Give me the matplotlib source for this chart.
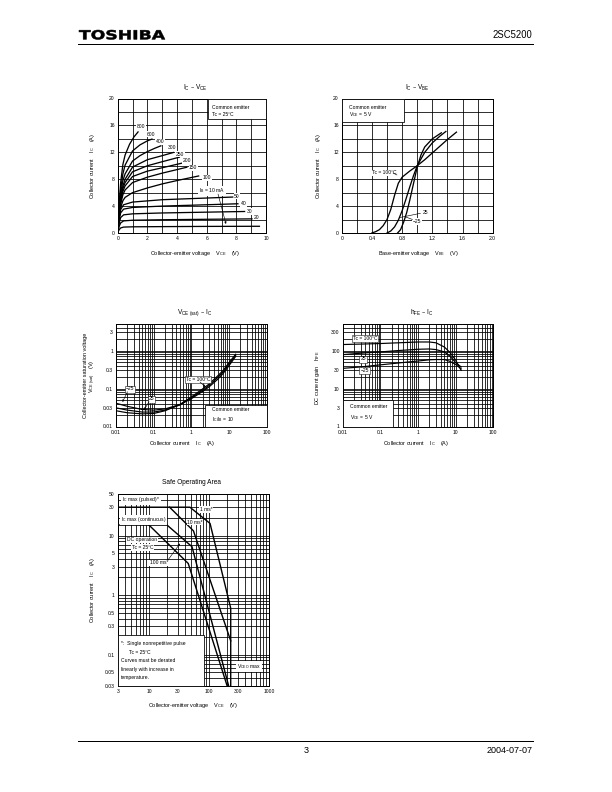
import numpy as np
import matplotlib
matplotlib.use('Agg')
import matplotlib.pyplot as plt
from matplotlib.patches import Rectangle, PathPatch
from matplotlib.textpath import TextPath
from matplotlib.font_manager import FontProperties
import matplotlib.transforms as mtransforms
from matplotlib.ticker import NullFormatter

plt.rcParams['font.family'] = ['Liberation Sans', 'DejaVu Sans']
plt.rcParams['mathtext.default'] = 'regular'

# ---------------- data ----------------
# I_C - V_CE  (common emitter, Tc = 25 C), curves per base current (mA)
vce_ib800 = [0, 0.05, 0.1, 0.2, 0.35, 0.5, 0.8, 1.1, 1.4]
ic_ib800 = [0, 2.4, 4.4, 7.5, 10.2, 11.6, 13.2, 14.3, 15.1]
vce_ib600 = [0, 0.05, 0.1, 0.2, 0.35, 0.5, 1.0, 1.5, 2.0, 2.35]
ic_ib600 = [0, 2.1, 3.8, 6.5, 8.8, 10.1, 12.2, 13.1, 13.7, 14.0]
vce_ib400 = [0, 0.05, 0.1, 0.2, 0.35, 0.5, 1.0, 1.5, 2.0, 2.5, 2.95]
ic_ib400 = [0, 1.9, 3.4, 5.9, 7.8, 8.8, 10.7, 11.5, 12.1, 12.6, 13.0]
vce_ib300 = [0, 0.05, 0.1, 0.2, 0.35, 0.5, 1.0, 2.0, 3.0, 3.8]
ic_ib300 = [0, 1.7, 3.1, 5.3, 7.0, 8.0, 9.8, 10.9, 11.5, 12.0]
vce_ib250 = [0, 0.05, 0.1, 0.2, 0.35, 0.5, 1.0, 2.0, 3.0, 4.2]
ic_ib250 = [0, 1.6, 3.0, 5.0, 6.6, 7.5, 9.1, 10.0, 10.6, 11.3]
vce_ib200 = [0, 0.05, 0.1, 0.2, 0.35, 0.5, 1.0, 2.0, 3.0, 4.55]
ic_ib200 = [0, 1.5, 2.8, 4.7, 6.2, 7.0, 8.4, 9.2, 9.7, 10.5]
vce_ib150 = [0, 0.05, 0.1, 0.2, 0.35, 0.5, 1.0, 2.0, 3.0, 4.7]
ic_ib150 = [0, 1.4, 2.6, 4.3, 5.7, 6.4, 7.5, 8.3, 8.9, 9.8]
vce_ib100 = [0, 0.05, 0.1, 0.2, 0.35, 0.5, 1.0, 2.0, 3.0, 4.0, 5.5]
ic_ib100 = [0, 1.2, 2.3, 3.8, 4.8, 5.3, 6.0, 6.7, 7.3, 7.8, 8.5]
vce_ib50 = [0, 0.05, 0.1, 0.2, 0.4, 1.0, 3.0, 6.0, 7.8]
ic_ib50 = [0, 1.2, 2.3, 3.5, 4.2, 4.6, 4.95, 5.2, 5.35]
vce_ib40 = [0, 0.05, 0.1, 0.2, 0.4, 1.0, 3.0, 6.0, 8.15]
ic_ib40 = [0, 1.0, 2.0, 3.0, 3.55, 3.8, 4.0, 4.2, 4.35]
vce_ib30 = [0, 0.05, 0.1, 0.2, 0.4, 1.0, 3.0, 6.0, 8.6]
ic_ib30 = [0, 0.8, 1.5, 2.3, 2.7, 2.85, 2.98, 3.1, 3.2]
vce_ib20 = [0, 0.05, 0.1, 0.2, 0.4, 1.0, 3.0, 6.0, 9.1]
ic_ib20 = [0, 0.55, 1.0, 1.5, 1.8, 1.9, 1.97, 2.04, 2.1]
vce_ib10 = [0, 0.05, 0.1, 0.2, 0.4, 1.0, 3.0, 6.0, 9.6]
ic_ib10 = [0, 0.28, 0.5, 0.75, 0.88, 0.92, 0.95, 0.98, 1.0]

# I_C - V_BE  (V_CE = 5 V)
vbe_100 = [0.40, 0.45, 0.50, 0.55, 0.60, 0.65, 0.70, 0.75, 0.80, 0.90, 1.0, 1.1, 1.2, 1.3, 1.4, 1.52]
icb_100 = [0, 0.2, 0.5, 1.1, 2.0, 3.5, 5.6, 7.4, 8.3, 9.2, 10.0, 10.9, 11.9, 12.9, 13.9, 15.0]
vbe_25 = [0.60, 0.65, 0.70, 0.75, 0.80, 0.85, 0.90, 0.95, 1.0, 1.1, 1.2, 1.3, 1.38]
icb_25 = [0, 0.3, 0.9, 1.9, 3.3, 5.0, 6.8, 8.5, 10.0, 12.0, 13.4, 14.4, 15.1]
vbe_m25 = [0.74, 0.78, 0.82, 0.86, 0.90, 0.95, 1.0, 1.05, 1.1, 1.2, 1.32]
icb_m25 = [0, 0.5, 1.6, 3.0, 4.8, 7.3, 9.8, 11.6, 12.8, 14.0, 14.9]

# V_CE(sat) - I_C  (I_C/I_B = 10)
sat_ic = [0.01, 0.02, 0.05, 0.1, 0.2, 0.5, 1, 2, 3, 5, 7, 10, 15]
sat_m25 = [0.041, 0.034, 0.028, 0.027, 0.029, 0.038, 0.054, 0.084, 0.112, 0.175, 0.25, 0.40, 0.70]
sat_25 = [0.031, 0.027, 0.024, 0.024, 0.027, 0.037, 0.057, 0.09, 0.122, 0.195, 0.275, 0.44, 0.75]
sat_100 = [0.026, 0.023, 0.0215, 0.022, 0.026, 0.038, 0.06, 0.098, 0.133, 0.215, 0.30, 0.48, 0.80]

# h_FE - I_C  (V_CE = 5 V)
hfe_ic = [0.01, 0.03, 0.1, 0.3, 1, 2, 3, 5, 7, 10, 14]
hfe_100 = [144, 148, 153, 160, 168, 168, 160, 124, 90, 56, 30]
hfe_25 = [78, 85, 92, 100, 108, 110, 106, 92, 72, 48, 37]
hfe_m25 = [34, 37, 42, 47, 53, 57, 58, 58, 52, 43, 33]

# Safe operating area
soa_dc_v = [3, 10, 45, 200]
soa_dc_i = [15, 15, 3.4, 0.03]
soa_100ms_v = [10, 20, 52, 212]
soa_100ms_i = [15, 15, 6.5, 0.03]
soa_10ms_v = [22, 55, 230]
soa_10ms_i = [30, 12, 0.17]
soa_1ms_v = [3, 48, 104, 230, 230]
soa_1ms_i = [30, 30, 16, 0.6, 0.03]

# tick labels
lin1_xt = [0, 2, 4, 6, 8, 10]
lin1_yt = [0, 4, 8, 12, 16, 20]
lin2_xt = [0, 0.4, 0.8, 1.2, 1.6, 2.0]
lin2_xl = ['0', '0.4', '0.8', '1.2', '1.6', '2.0']
log_ic_xt = [0.01, 0.1, 1, 10, 100]
log_ic_xl = ['0.01', '0.1', '1', '10', '100']
sat_yt = [0.01, 0.03, 0.1, 0.3, 1, 3]
sat_yl = ['0.01', '0.03', '0.1', '0.3', '1', '3']
hfe_yt = [1, 3, 10, 30, 100, 300]
hfe_yl = ['1', '3', '10', '30', '100', '300']
soa_xt = [3, 10, 30, 100, 300, 1000]
soa_xl = ['3', '10', '30', '100', '300', '1000']
soa_yt = [0.03, 0.05, 0.1, 0.3, 0.5, 1, 3, 5, 10, 30, 50]
soa_yl = ['0.03', '0.05', '0.1', '0.3', '0.5', '1', '3', '5', '10', '30', '50']

# ---------------- figure ----------------
W, H = 612, 792
fig = plt.figure(figsize=(W / 72, H / 72), dpi=72)
fig.patch.set_facecolor('white')

TICK = 5
LAB = 5.5
ANN = 5
TITLE = 6.5
GRID_LW = 0.8
CURVE_LW = 1.3


def px(x, y):
    return (x / W, 1 - y / H)


def add_axes(l, t, r, b):
    return fig.add_axes([l / W, 1 - b / H, (r - l) / W, (b - t) / H])


def ptext(ax, x, y, s, **kw):
    kw.setdefault('fontsize', ANN)
    kw.setdefault('zorder', 6)
    return ax.text(*px(x, y), s, transform=fig.transFigure, **kw)


def pbox(ax, l, t, r, b, lw=0.8):
    ax.add_patch(Rectangle(px(l, b), (r - l) / W, (b - t) / H,
                           transform=fig.transFigure, fc='white', ec='black',
                           lw=lw, zorder=4, clip_on=False))


def parrow(ax, x1, y1, x2, y2, head=True):
    ax.annotate('', xy=px(x2, y2), xytext=px(x1, y1),
                xycoords='figure fraction', textcoords='figure fraction',
                arrowprops=dict(arrowstyle='-|>' if head else '-', lw=0.6,
                                color='black', mutation_scale=4,
                                shrinkA=0, shrinkB=0), zorder=6)


def style(ax):
    for s in ax.spines.values():
        s.set_linewidth(1.0)
        s.set_color('black')
    ax.tick_params(which='both', length=0, labelsize=TICK, pad=3)
    ax.grid(True, which='both', color='black', lw=GRID_LW)
    ax.set_axisbelow(True)
    ax.set_facecolor('white')


def log_minor(e0, e1):
    return [m * 10.0 ** e for e in range(e0, e1 + 1) for m in range(1, 10)]


WHITE = dict(boxstyle='square,pad=0.12', fc='white', ec='none')
BORDER = dict(boxstyle='square,pad=0.2', fc='white', ec='black', lw=0.5)

# ---------- header / footer ----------
tp = TextPath((0, 0), 'TOSHIBA', size=10,
              prop=FontProperties(family='DejaVu Sans', weight='bold'))
bb = tp.get_extents()
trans = (mtransforms.Affine2D().translate(-bb.x0, -bb.y0)
         .scale(86.0 / bb.width, 9.5 / bb.height).translate(79, H - 39.5))
fig.add_artist(PathPatch(tp, transform=trans, fc='black', ec='black', lw=0.5))
fig.text(*px(532, 35), '2SC5200', fontsize=9.5, ha='right', va='center')
fig.add_artist(plt.Line2D([78 / W, 533 / W], [1 - 44 / H, 1 - 44 / H],
                          color='black', lw=1.0, transform=fig.transFigure))
fig.add_artist(plt.Line2D([78 / W, 533 / W], [1 - 741 / H, 1 - 741 / H],
                          color='black', lw=1.0, transform=fig.transFigure))
fig.text(*px(306, 750.5), '3', fontsize=9, ha='center', va='center')
fig.text(*px(533, 750.5), '2004-07-07', fontsize=9, ha='right', va='center')

# ---------- chart 1 : I_C - V_CE ----------
ax1 = add_axes(117.7, 98.5, 266, 233)
style(ax1)
ib_curves = [(vce_ib800, ic_ib800), (vce_ib600, ic_ib600), (vce_ib400, ic_ib400),
             (vce_ib300, ic_ib300), (vce_ib250, ic_ib250), (vce_ib200, ic_ib200),
             (vce_ib150, ic_ib150), (vce_ib100, ic_ib100), (vce_ib50, ic_ib50),
             (vce_ib40, ic_ib40), (vce_ib30, ic_ib30), (vce_ib20, ic_ib20),
             (vce_ib10, ic_ib10)]
for v, i in ib_curves:
    ax1.plot(v, i, color='black', lw=CURVE_LW, solid_capstyle='butt', zorder=3)
ax1.set_xlim(0, 10)
ax1.set_ylim(0, 20)
ax1.set_xticks(lin1_xt, labels=[str(t) for t in lin1_xt])
ax1.set_xticks(range(0, 11), minor=True)
ax1.set_yticks(lin1_yt, labels=[str(t) for t in lin1_yt])
ax1.set_yticks(range(0, 21, 2), minor=True)
ax1.xaxis.set_minor_formatter(NullFormatter())
ax1.yaxis.set_minor_formatter(NullFormatter())
pbox(ax1, 207.7, 98.5, 266, 119.3)
ptext(ax1, 212.5, 107.5, 'Common emitter', va='center')
ptext(ax1, 212.5, 114.5, 'Tc = 25°C', va='center')
for lab, x, y in [('800', 141, 126.7), ('600', 151, 134.3), ('400', 160, 141.7),
                  ('300', 172, 147.7), ('250', 180, 154.3), ('200', 186.7, 160.7),
                  ('150', 193.3, 167.7), ('100', 206.7, 177.7), ('50', 237, 196),
                  ('40', 243.5, 203.7), ('30', 250, 211.5), ('20', 256.7, 217.3)]:
    ptext(ax1, x, y, lab, ha='center', va='center', bbox=WHITE)
ptext(ax1, 212, 191, 'I$_B$ = 10 mA', ha='center', va='center', bbox=WHITE)
parrow(ax1, 218, 194, 226, 224)
fig.text(*px(195, 88), 'I$_C$ – V$_{CE}$', fontsize=TITLE, ha='center', va='center')
fig.text(*px(195, 254), 'Collector-emitter voltage    V$_{CE}$    (V)',
         fontsize=LAB, ha='center', va='center')
fig.text(*px(93, 166), 'Collector current    I$_C$    (A)', fontsize=LAB,
         ha='center', va='center', rotation=90)

# ---------- chart 2 : I_C - V_BE ----------
ax2 = add_axes(341.7, 98.5, 492.7, 233)
style(ax2)
for v, i in [(vbe_100, icb_100), (vbe_25, icb_25), (vbe_m25, icb_m25)]:
    ax2.plot(v, i, color='black', lw=CURVE_LW, zorder=3)
ax2.set_xlim(0, 2.0)
ax2.set_ylim(0, 20)
ax2.set_xticks(lin2_xt, labels=lin2_xl)
ax2.set_xticks(np.arange(0, 2.01, 0.2), minor=True)
ax2.set_yticks(lin1_yt, labels=[str(t) for t in lin1_yt])
ax2.set_yticks(range(0, 21, 2), minor=True)
ax2.xaxis.set_minor_formatter(NullFormatter())
ax2.yaxis.set_minor_formatter(NullFormatter())
pbox(ax2, 341.7, 98.5, 404, 121.7)
ptext(ax2, 349, 107.5, 'Common emitter', va='center')
ptext(ax2, 349, 114.5, 'V$_{CE}$ = 5 V', va='center')
ptext(ax2, 384, 172.7, 'Tc = 100°C', ha='center', va='center', bbox=WHITE)
parrow(ax2, 393, 173, 397, 175, head=False)
ptext(ax2, 425, 212.3, '25', ha='center', va='center', bbox=WHITE)
parrow(ax2, 420.5, 213.3, 400, 217.5, head=False)
ptext(ax2, 417, 221.5, '−25', ha='center', va='center', bbox=WHITE)
parrow(ax2, 412.5, 219.5, 405, 216.7, head=False)
fig.text(*px(417, 88), 'I$_C$ – V$_{BE}$', fontsize=TITLE, ha='center', va='center')
fig.text(*px(418, 254), 'Base-emitter voltage    V$_{BE}$    (V)',
         fontsize=LAB, ha='center', va='center')
fig.text(*px(318.5, 166), 'Collector current    I$_C$    (A)', fontsize=LAB,
         ha='center', va='center', rotation=90)

# ---------- chart 3 : V_CE(sat) - I_C ----------
ax3 = add_axes(116, 324, 266.7, 426.5)
style(ax3)
ax3.set_xscale('log')
ax3.set_yscale('log')
for s in [sat_m25, sat_25, sat_100]:
    ax3.plot(sat_ic, s, color='black', lw=1.2, zorder=3)
ax3.set_xlim(0.01, 100)
ax3.set_ylim(0.01, 5)
ax3.set_xticks(log_ic_xt, labels=log_ic_xl)
ax3.set_xticks(log_minor(-2, 1), minor=True)
ax3.set_yticks(sat_yt, labels=sat_yl)
ax3.set_yticks([t for t in log_minor(-2, 0) if t <= 5], minor=True)
ax3.xaxis.set_minor_formatter(NullFormatter())
ax3.yaxis.set_minor_formatter(NullFormatter())
pbox(ax3, 205, 404.5, 266.7, 426.5)
ptext(ax3, 212, 409.5, 'Common emitter', va='center')
ptext(ax3, 212, 420, 'I$_C$/I$_B$ = 10', va='center')
ptext(ax3, 198, 379, 'Tc = 100°C', ha='center', va='center', bbox=BORDER)
parrow(ax3, 200, 382, 205.5, 387)
ptext(ax3, 130, 389, '−25', ha='center', va='center', bbox=BORDER)
parrow(ax3, 127.5, 391.7, 122.5, 402)
ptext(ax3, 151.7, 399, '25', ha='center', va='center', bbox=BORDER)
parrow(ax3, 149, 401.7, 144, 410)
fig.text(*px(195, 313), 'V$_{CE\\ (sat)}$ – I$_C$', fontsize=TITLE, ha='center', va='center')
fig.text(*px(182, 443), 'Collector current    I$_C$    (A)',
         fontsize=LAB, ha='center', va='center')
fig.text(*px(85, 375), 'Collector-emitter saturation voltage', fontsize=LAB,
         ha='center', va='center', rotation=90)
fig.text(*px(92.5, 376), 'V$_{CE\\ (sat)}$    (V)', fontsize=LAB,
         ha='center', va='center', rotation=90)

# ---------- chart 4 : h_FE - I_C ----------
ax4 = add_axes(342.7, 324, 493.3, 426.5)
style(ax4)
ax4.set_xscale('log')
ax4.set_yscale('log')
for s in [hfe_100, hfe_25, hfe_m25]:
    ax4.plot(hfe_ic, s, color='black', lw=1.2, zorder=3)
ax4.set_xlim(0.01, 100)
ax4.set_ylim(1, 500)
ax4.set_xticks(log_ic_xt, labels=log_ic_xl)
ax4.set_xticks(log_minor(-2, 1), minor=True)
ax4.set_yticks(hfe_yt, labels=hfe_yl)
ax4.set_yticks([t for t in log_minor(0, 2) if t <= 500], minor=True)
ax4.xaxis.set_minor_formatter(NullFormatter())
ax4.yaxis.set_minor_formatter(NullFormatter())
pbox(ax4, 342.7, 400, 393.3, 426.5)
ptext(ax4, 350, 406.7, 'Common emitter', va='center')
ptext(ax4, 350, 417.7, 'V$_{CE}$ = 5 V', va='center')
ptext(ax4, 365, 338.5, 'Tc = 100°C', ha='center', va='center', bbox=BORDER)
ptext(ax4, 363, 359, '25', ha='center', va='center', bbox=BORDER)
ptext(ax4, 364.5, 370.5, '−25', ha='center', va='center', bbox=BORDER)
fig.text(*px(422, 313), 'h$_{FE}$ – I$_C$', fontsize=TITLE, ha='center', va='center')
fig.text(*px(416, 443), 'Collector current    I$_C$    (A)',
         fontsize=LAB, ha='center', va='center')
fig.text(*px(317, 378), 'DC current gain    h$_{FE}$', fontsize=LAB,
         ha='center', va='center', rotation=90)

# ---------- chart 5 : Safe operating area ----------
ax5 = add_axes(117.7, 494, 269, 685.7)
style(ax5)
ax5.set_xscale('log')
ax5.set_yscale('log')
for v, i in [(soa_dc_v, soa_dc_i), (soa_100ms_v, soa_100ms_i),
             (soa_10ms_v, soa_10ms_i), (soa_1ms_v, soa_1ms_i)]:
    ax5.plot(v, i, color='black', lw=1.4, zorder=3, solid_joinstyle='miter')
ax5.set_xlim(3, 1000)
ax5.set_ylim(0.03, 50)
ax5.set_xticks(soa_xt, labels=soa_xl)
ax5.set_xticks([t for t in log_minor(0, 2) if t >= 3], minor=True)
ax5.set_yticks(soa_yt, labels=soa_yl)
ax5.set_yticks([t for t in log_minor(-2, 1) if 0.03 <= t <= 50], minor=True)
ax5.xaxis.set_minor_formatter(NullFormatter())
ax5.yaxis.set_minor_formatter(NullFormatter())
ptext(ax5, 122, 500, 'I$_C$ max (pulsed)*', va='center', bbox=WHITE)
ptext(ax5, 206, 509.5, '1 ms*', ha='center', va='center', bbox=WHITE)
ptext(ax5, 121, 520, 'I$_C$ max (continuous)', va='center', bbox=WHITE)
ptext(ax5, 195, 522, '10 ms*', ha='center', va='center', bbox=WHITE)
ptext(ax5, 127, 540, 'DC operation', va='center', bbox=WHITE)
ptext(ax5, 132, 547.5, 'Tc = 25°C', va='center', bbox=WHITE)
ptext(ax5, 150, 563, '100 ms*', va='center', bbox=WHITE)
parrow(ax5, 168, 560, 180, 543.5)
pbox(ax5, 117.7, 635, 204, 685.7)
ptext(ax5, 121, 643.5, '*:  Single nonrepetitive pulse', va='center')
ptext(ax5, 129, 652.5, 'Tc = 25°C', va='center')
ptext(ax5, 121, 661, 'Curves must be derated', va='center')
ptext(ax5, 121, 669.5, 'linearly with increase in', va='center')
ptext(ax5, 121, 678, 'temperature.', va='center')
ptext(ax5, 249, 666.5, 'V$_{CEO}$ max', ha='center', va='center', bbox=WHITE)
fig.text(*px(192, 483), 'Safe Operating Area', fontsize=TITLE, ha='center', va='center')
fig.text(*px(193, 705), 'Collector-emitter voltage    V$_{CE}$    (V)',
         fontsize=LAB, ha='center', va='center')
fig.text(*px(93, 590), 'Collector current    I$_C$    (A)', fontsize=LAB,
         ha='center', va='center', rotation=90)

fig.savefig('out.png', dpi=72, facecolor='white')
